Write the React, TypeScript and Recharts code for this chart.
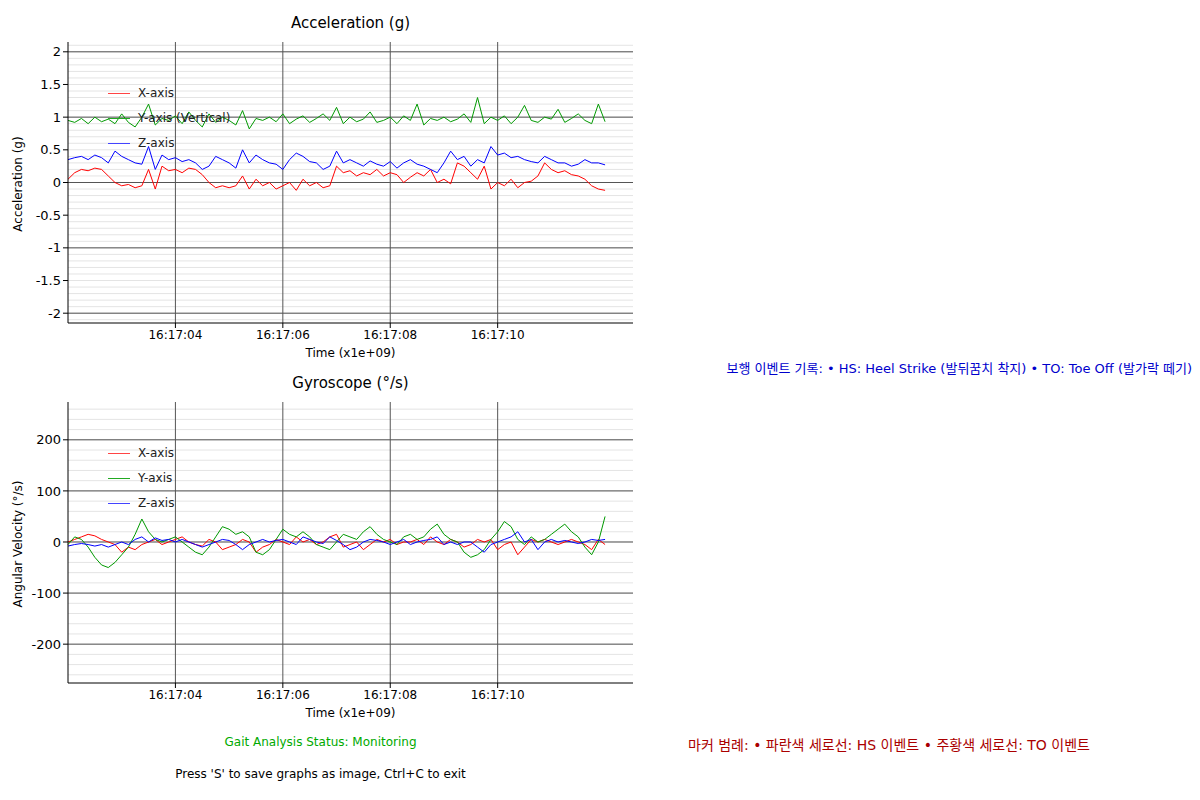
import { LineChart, Line, XAxis, YAxis, ReferenceLine } from "recharts";

// time offsets in seconds after 16:17:00
const accX = [0.05,0.15,0.2,0.18,0.22,0.2,0.1,0.0,-0.05,-0.03,-0.08,-0.05,0.2,-0.1,0.25,0.18,0.2,0.15,0.22,0.2,0.12,0.0,-0.08,-0.05,-0.08,-0.05,0.1,-0.1,0.05,-0.05,0.0,-0.1,-0.05,0.0,-0.12,0.05,-0.05,0.0,-0.08,-0.05,0.25,0.15,0.18,0.1,0.15,0.12,0.2,0.1,0.15,0.12,0.0,0.08,0.15,0.1,0.2,0.0,0.05,-0.02,0.3,0.25,0.15,0.05,0.25,-0.1,0.0,-0.05,0.05,-0.08,0.0,0.02,0.1,0.3,0.2,0.15,0.18,0.12,0.1,0.05,-0.05,-0.1,-0.12];
const accY = [0.95,0.92,0.98,0.9,1.0,0.93,0.97,0.9,1.05,0.92,0.85,1.0,1.2,0.88,0.98,0.95,1.02,0.9,1.08,0.95,0.85,1.05,0.92,1.0,0.95,0.88,1.1,0.82,0.98,0.95,1.0,0.93,1.05,0.9,0.97,1.02,0.92,0.98,1.05,0.95,1.15,0.9,1.0,0.93,0.97,1.08,0.92,0.95,1.0,0.9,1.02,0.95,1.2,0.88,0.98,0.95,1.0,0.93,0.97,1.05,0.92,1.3,0.9,1.0,0.95,1.02,0.9,1.0,1.18,0.95,0.92,1.0,0.97,1.12,0.92,0.98,1.05,0.95,0.9,1.2,0.93];
const accZ = [0.35,0.38,0.4,0.35,0.42,0.38,0.3,0.48,0.4,0.35,0.3,0.28,0.55,0.2,0.42,0.35,0.38,0.32,0.35,0.3,0.2,0.25,0.4,0.35,0.3,0.22,0.5,0.3,0.42,0.35,0.3,0.28,0.2,0.35,0.45,0.4,0.32,0.3,0.2,0.25,0.48,0.3,0.35,0.3,0.25,0.33,0.28,0.25,0.32,0.22,0.3,0.35,0.28,0.25,0.2,0.15,0.3,0.48,0.35,0.4,0.25,0.35,0.3,0.55,0.42,0.45,0.38,0.4,0.35,0.32,0.3,0.4,0.35,0.3,0.3,0.25,0.28,0.35,0.3,0.3,0.27];
const gyroX = [0,5,10,15,12,5,0,-5,-20,-10,-15,-5,0,5,-5,0,5,10,0,-5,-8,5,0,-15,-10,-5,5,0,-20,-10,-5,5,0,-5,10,0,5,-5,0,10,15,-10,-5,0,-15,-5,5,0,5,-5,0,0,5,-5,10,0,-5,5,0,-10,-5,5,0,5,-15,-5,0,-25,-10,5,0,5,0,-5,0,5,0,-5,-15,5,-5];
const gyroY = [-5,10,5,-10,-30,-45,-50,-40,-25,-10,15,45,20,5,0,5,10,0,-10,-20,-25,-10,10,30,25,15,20,10,-20,-25,-15,5,25,15,10,20,10,-5,-10,-15,0,15,10,5,20,30,15,5,0,-5,10,15,5,10,25,35,15,5,0,-20,-30,-25,-15,5,20,40,30,5,-5,10,0,5,15,25,35,20,10,-10,-25,0,50];
const gyroZ = [-8,-5,-3,-5,-8,-5,-10,-5,0,-5,5,10,0,8,3,5,0,5,0,-5,-10,-5,0,5,3,-5,-15,-5,0,5,0,3,5,0,-5,10,5,0,-3,10,3,-5,-15,-10,0,5,3,0,-5,0,5,-5,0,3,5,10,-5,0,-5,0,0,-10,-20,-5,0,5,10,20,0,5,-15,0,5,0,3,0,-3,0,5,3,5];

const startSec = 2;
const stepSec = 0.125;
const timeTicks = [4, 6, 8, 10];
const accTicks = [-2, -1.5, -1, -0.5, 0, 0.5, 1, 1.5, 2];
const gyroTicks = [-200, -100, 0, 100, 200];

const accData = accX.map((v, i) => ({ t: startSec + i * stepSec, x: v, y: accY[i], z: accZ[i] }));
const gyroData = gyroX.map((v, i) => ({ t: startSec + i * stepSec, x: v, y: gyroY[i], z: gyroZ[i] }));

const FONT = "'DejaVu Sans', 'Noto Sans CJK KR', sans-serif";
const fmtTime = (s: number) => `16:17:${String(s).padStart(2, "0")}`;

function range(from: number, to: number, step: number) {
  const out: number[] = [];
  for (let k = Math.round(from / step); k * step <= to + 1e-9; k++) out.push(+(k * step).toFixed(4));
  return out;
}

interface PanelProps {
  top: number;
  title: string;
  yLabel: string;
  data: { t: number; x: number; y: number; z: number }[];
  domain: [number, number];
  ticks: number[];
  minor: number[];
  major: number[];
  labels: string[];
}

const Panel = ({ top, title, yLabel, data, domain, ticks, minor, major, labels }: PanelProps) => (
  <div style={{ position: "absolute", left: 0, top, width: 640, height: 360 }}>
    <div style={{ position: "absolute", left: 60, width: 565, top: 6, textAlign: "center", fontSize: 15 }}>{title}</div>
    <LineChart width={640} height={345} data={data} margin={{ top: 34, right: 15, left: 0, bottom: 0 }}>
      {minor.map((v) => (
        <ReferenceLine key={"m" + v} y={v} stroke="#e4e4e4" strokeWidth={1} />
      ))}
      {major.map((v) => (
        <ReferenceLine key={"M" + v} y={v} stroke="#555" strokeWidth={1} />
      ))}
      {timeTicks.map((v) => (
        <ReferenceLine key={"t" + v} x={v} stroke="#555" strokeWidth={1} />
      ))}
      <XAxis
        dataKey="t"
        type="number"
        domain={[2, 12.52]}
        ticks={timeTicks}
        tickFormatter={fmtTime}
        height={30}
        tick={{ fill: "#000", fontSize: 12 }}
        tickSize={5}
        stroke="#000"
      />
      <YAxis
        type="number"
        domain={domain}
        ticks={ticks}
        allowDataOverflow
        width={60}
        tick={{ fill: "#000", fontSize: 13 }}
        tickSize={5}
        stroke="#000"
      />
      <Line dataKey="x" stroke="#ff0000" dot={false} strokeWidth={1} isAnimationActive={false} />
      <Line dataKey="y" stroke="#009900" dot={false} strokeWidth={1} isAnimationActive={false} />
      <Line dataKey="z" stroke="#0000ff" dot={false} strokeWidth={1} isAnimationActive={false} />
    </LineChart>
    <div style={{ position: "absolute", left: 60, width: 565, top: 338, textAlign: "center", fontSize: 12 }}>Time (x1e+09)</div>
    <div
      style={{
        position: "absolute",
        left: 10,
        top: 176,
        fontSize: 12,
        transform: "translate(-50%, -50%) rotate(-90deg)",
        whiteSpace: "nowrap",
      }}
    >
      {yLabel}
    </div>
    {labels.map((l, i) => (
      <div key={l} style={{ position: "absolute", left: 100, top: 78 + i * 25, fontSize: 12, display: "flex", alignItems: "center" }}>
        <span style={{ width: 22, height: 1, background: ["#ff4444", "#22aa22", "#4444ff"][i], marginRight: 8, display: "inline-block" }} />
        <span style={{ color: "#222" }}>{l}</span>
      </div>
    ))}
  </div>
);

export default function App() {
  return (
    <div style={{ position: "relative", width: 1184, height: 784, fontFamily: FONT, background: "#fff" }}>
      <Panel
        top={0}
        title="Acceleration (g)"
        yLabel="Acceleration (g)"
        data={accData}
        domain={[-2.15, 2.15]}
        ticks={accTicks}
        minor={range(-2.1, 2.1, 0.1)}
        major={[-2, -1, 0, 1, 2]}
        labels={["X-axis", "Y-axis (Vertical)", "Z-axis"]}
      />
      <Panel
        top={360}
        title="Gyroscope (°/s)"
        yLabel="Angular Velocity (°/s)"
        data={gyroData}
        domain={[-276, 274]}
        ticks={gyroTicks}
        minor={range(-260, 260, 20)}
        major={[-200, -100, 0, 100, 200]}
        labels={["X-axis", "Y-axis", "Z-axis"]}
      />
      <div style={{ position: "absolute", right: 0, top: 350, fontSize: 13, color: "#0000cc", whiteSpace: "nowrap" }}>
        보행 이벤트 기록: • HS: Heel Strike (발뒤꿈치 착지) • TO: Toe Off (발가락 떼기)
      </div>
      <div style={{ position: "absolute", left: 60, width: 505, top: 727, textAlign: "center", fontSize: 12, color: "#00aa00" }}>
        Gait Analysis Status: Monitoring
      </div>
      <div style={{ position: "absolute", left: 60, width: 505, top: 759, textAlign: "center", fontSize: 12, color: "#000" }}>
        Press 'S' to save graphs as image, Ctrl+C to exit
      </div>
      <div style={{ position: "absolute", left: 680, top: 726, fontSize: 14, color: "#aa0000", whiteSpace: "nowrap" }}>
        마커 범례: • 파란색 세로선: HS 이벤트 • 주황색 세로선: TO 이벤트
      </div>
    </div>
  );
}
